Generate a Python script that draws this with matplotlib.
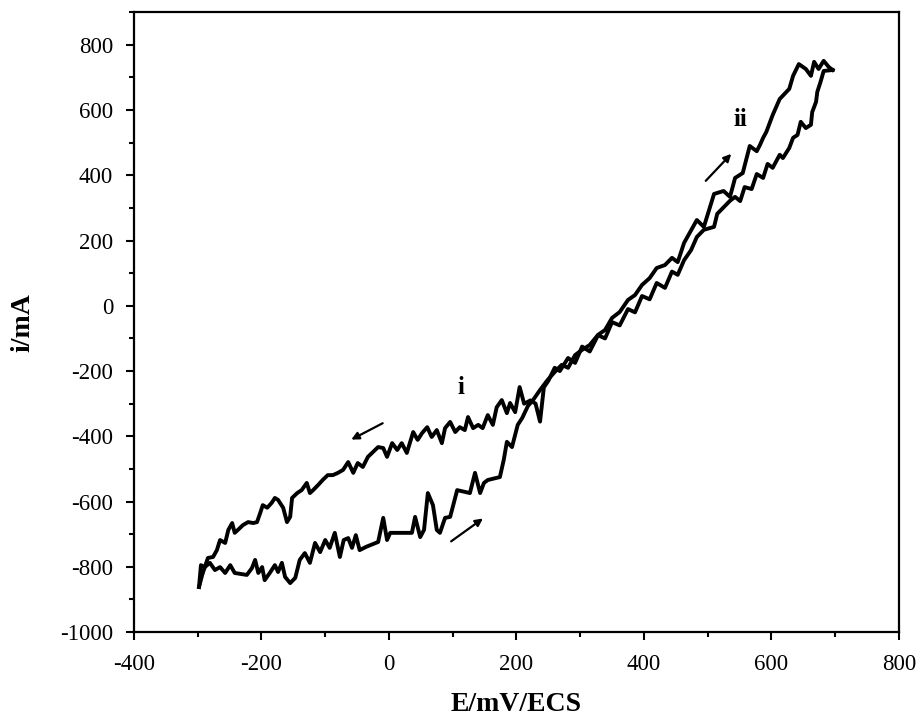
import matplotlib
matplotlib.use("Agg")
import matplotlib.pyplot as plt
from matplotlib.ticker import MultipleLocator

plt.rcParams['font.family'] = ['Liberation Serif', 'DejaVu Serif']
plt.rcParams['axes.unicode_minus'] = False

# forward scan: lower branch on the left, upper-left branch on the right
fwd_E = [-298, -295, -289, -281, -273, -265, -257, -249, -242, -223, -215, -210, -205, -199,
         -195, -187, -179, -174, -168, -163, -155, -147, -140, -132, -124, -116, -108, -100,
         -93, -85, -77, -71, -64, -58, -52, -46, -36, -17, -9, -3, 2, 36, 41, 49, 55, 61,
         69, 75, 80, 88, 96, 107, 127, 135, 143, 149, 155, 174, 180, 185, 193, 202, 209,
         218, 226, 237, 249, 260, 271, 281, 292, 303, 315, 328, 339, 350, 362, 375, 386,
         397, 409, 420, 433, 444, 453, 463, 483, 494, 510, 525, 535, 543, 555, 566, 577,
         582, 587, 592, 602, 613, 628, 634, 643, 654, 662, 667, 674, 682, 690, 696]
fwd_i = [-862, -795, -801, -788, -810, -801, -819, -795, -819, -825, -804, -779, -819, -801,
         -841, -819, -795, -816, -788, -831, -850, -834, -779, -758, -788, -727, -755, -718,
         -742, -696, -770, -718, -712, -742, -703, -749, -739, -724, -650, -718, -696, -696,
         -647, -709, -687, -574, -611, -687, -696, -650, -647, -565, -574, -512, -574, -543,
         -534, -525, -473, -417, -433, -365, -344, -307, -289, -258, -227, -203, -181, -190,
         -151, -135, -120, -89, -74, -37, -19, 18, 33, 64, 85, 116, 125, 147, 134, 193, 263,
         242, 343, 352, 334, 392, 407, 490, 474, 493, 515, 533, 585, 634, 665, 705, 741, 726,
         705, 748, 726, 751, 732, 723]

# reverse scan: lower-right branch on the right, upper branch on the left
rev_E = [696, 682, 677, 672, 670, 664, 662, 654, 646, 641, 634, 628, 618, 613, 602, 594,
         587, 577, 569, 558, 551, 543, 535, 515, 510, 494, 483, 474, 463, 453, 444, 433,
         420, 409, 397, 386, 375, 362, 350, 339, 328, 315, 303, 292, 281, 268, 260, 250,
         243, 237, 230, 222, 212, 205, 198, 190, 185, 177, 169, 163, 155, 147, 140, 132,
         124, 119, 111, 104, 96, 88, 83, 75, 67, 60, 52, 45, 38, 28, 20, 13, 5, -3, -9,
         -17, -25, -33, -41, -49, -56, -64, -72, -80, -88, -96, -104, -111, -119, -124,
         -129, -137, -144, -152, -155, -160, -166, -174, -179, -184, -191, -198, -202,
         -207, -213, -221, -229, -237, -242, -246, -252, -257, -265, -270, -276, -284,
         -289, -293, -298]
rev_i = [723, 720, 686, 656, 625, 594, 555, 545, 564, 524, 515, 484, 453, 463, 423, 435,
         392, 404, 358, 364, 321, 334, 322, 282, 242, 233, 211, 171, 140, 95, 105, 55,
         70, 20, 30, -20, -10, -60, -50, -100, -90, -140, -125, -175, -160, -200, -190, -230,
         -250, -355, -300, -290, -300, -249, -326, -298, -329, -289, -311, -365, -335,
         -375, -365, -375, -341, -381, -372, -387, -356, -375, -421, -381, -402, -372,
         -390, -411, -387, -451, -421, -442, -421, -463, -436, -433, -448, -463, -494,
         -482, -512, -479, -503, -512, -519, -519, -534, -549, -565, -574, -543, -565,
         -574, -589, -647, -663, -619, -595, -589, -604, -619, -611, -635, -663, -666,
         -663, -672, -687, -696, -666, -687, -727, -718, -749, -770, -773, -801, -825, -862]

fig = plt.figure(figsize=(9.21, 7.2), dpi=100)
ax = fig.add_axes([0.1455, 0.1222, 0.8305, 0.8608])

ax.plot(fwd_E, fwd_i, color='black', lw=2.8, solid_joinstyle='round')
ax.plot(rev_E, rev_i, color='black', lw=2.8, solid_joinstyle='round')

# scan direction arrows
arr = dict(arrowstyle='-|>', color='black', lw=1.6, mutation_scale=11)
ax.annotate('', xy=(-63, -414), xytext=(-6, -356), arrowprops=arr)
ax.annotate('', xy=(151, -647), xytext=(94, -727), arrowprops=arr)
ax.annotate('', xy=(540, 472), xytext=(494, 377), arrowprops=arr)

ax.text(113, -249, 'i', fontsize=18, fontweight='bold', ha='center', va='center')
ax.text(552, 570, 'ii', fontsize=18, fontweight='bold', ha='center', va='center')

ax.set_xlim(-400, 800)
ax.set_ylim(-1000, 900)
ax.xaxis.set_major_locator(MultipleLocator(200))
ax.xaxis.set_minor_locator(MultipleLocator(100))
ax.yaxis.set_major_locator(MultipleLocator(200))
ax.yaxis.set_minor_locator(MultipleLocator(100))
ax.tick_params(which='major', direction='out', length=6, width=1.5, labelsize=16.5)
ax.tick_params(which='minor', direction='out', length=3.5, width=1.5)
ax.tick_params(axis='x', which='major', pad=10)
ax.tick_params(axis='y', which='major', pad=9)
for s in ax.spines.values():
    s.set_linewidth(1.6)

ax.set_xlabel('E/mV/ECS', fontsize=20, fontweight='bold', labelpad=12)
ax.set_ylabel('i/mA', fontsize=20, fontweight='bold', labelpad=18)

fig.savefig('out.png', dpi=100)
